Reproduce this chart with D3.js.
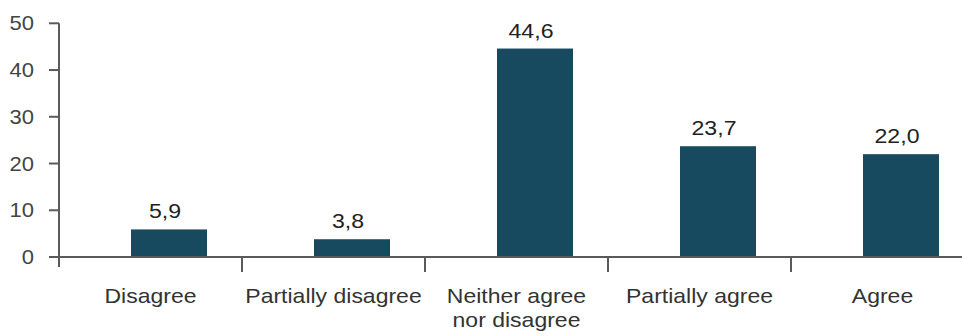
<!DOCTYPE html>
<html>
<head>
<meta charset="utf-8">
<script src="https://cdn.jsdelivr.net/npm/d3@7"></script>
<style>
  html, body { margin: 0; padding: 0; background: #fff; }
  svg { display: block; font-family: "Liberation Sans", Arial, sans-serif; }
</style>
</head>
<body>
<svg id="chart" width="962" height="336"></svg>
<script>
const categories = ["Disagree", "Partially disagree", "Neither agree\nnor disagree", "Partially agree", "Agree"];
const values = [5.9, 3.8, 44.6, 23.7, 22.0];
const valueLabels = ["5,9", "3,8", "44,6", "23,7", "22,0"];
const yTicks = [0, 10, 20, 30, 40, 50];

const svg = d3.select("#chart");
const x0 = 59, bandW = 183;
const x = d3.scaleBand().domain(d3.range(categories.length)).range([x0, x0 + bandW * categories.length]).padding(0);
const y = d3.scaleLinear().domain([0, 50]).range([257, 23.3]);

const axisColor = "#5a5a5a";
const barColor = "#174a5e";

// bars (offset right within band as in reference)
const barOff = 72, barW = 76;
svg.append("g").selectAll("rect").data(values).join("rect")
  .attr("x", (d, i) => x(i) + barOff)
  .attr("y", d => y(d))
  .attr("width", barW)
  .attr("height", d => y(0) - y(d))
  .attr("fill", barColor);

// value labels
svg.append("g").selectAll("text").data(values).join("text")
  .attr("transform", (d, i) => `translate(${x(i) + barOff + barW / 2 - 4},${y(d) - 11}) scale(1.1,1)`)
  .attr("text-anchor", "middle")
  .attr("font-size", 21)
  .attr("fill", "#222")
  .text((d, i) => valueLabels[i]);

// y axis
const yAxis = svg.append("g");
yAxis.append("line").attr("x1", x0).attr("x2", x0).attr("y1", y(50)).attr("y2", 267)
  .attr("stroke", axisColor).attr("stroke-width", 2);
yAxis.selectAll("line.t").data(yTicks).join("line").attr("class", "t")
  .attr("x1", x0 - 10).attr("x2", x0).attr("y1", d => y(d)).attr("y2", d => y(d))
  .attr("stroke", axisColor).attr("stroke-width", 2);
yAxis.selectAll("text").data(yTicks).join("text")
  .attr("transform", d => `translate(34,${y(d)}) scale(1.1,1)`)
  .attr("text-anchor", "end")
  .attr("dy", "0.35em")
  .attr("font-size", 20)
  .attr("fill", "#444")
  .text(d => d);

// x axis
const xAxis = svg.append("g");
xAxis.append("line").attr("x1", x0).attr("x2", 962).attr("y1", y(0)).attr("y2", y(0))
  .attr("stroke", axisColor).attr("stroke-width", 2);
xAxis.selectAll("line.t").data(d3.range(1, categories.length)).join("line").attr("class", "t")
  .attr("x1", i => x(i)).attr("x2", i => x(i)).attr("y1", y(0)).attr("y2", y(0) + 15)
  .attr("stroke", axisColor).attr("stroke-width", 2);

const labels = xAxis.selectAll("text").data(categories).join("text")
  .attr("transform", (d, i) => `translate(${x(i) + x.bandwidth() / 2},303) scale(1.15,1)`)
  .attr("text-anchor", "middle")
  .attr("font-size", 20)
  .attr("fill", "#333");
labels.each(function(d) {
  const t = d3.select(this);
  d.split("\n").forEach((line, k) => {
    t.append("tspan").attr("x", 0).attr("dy", k === 0 ? 0 : 24).text(line);
  });
});
</script>
</body>
</html>
